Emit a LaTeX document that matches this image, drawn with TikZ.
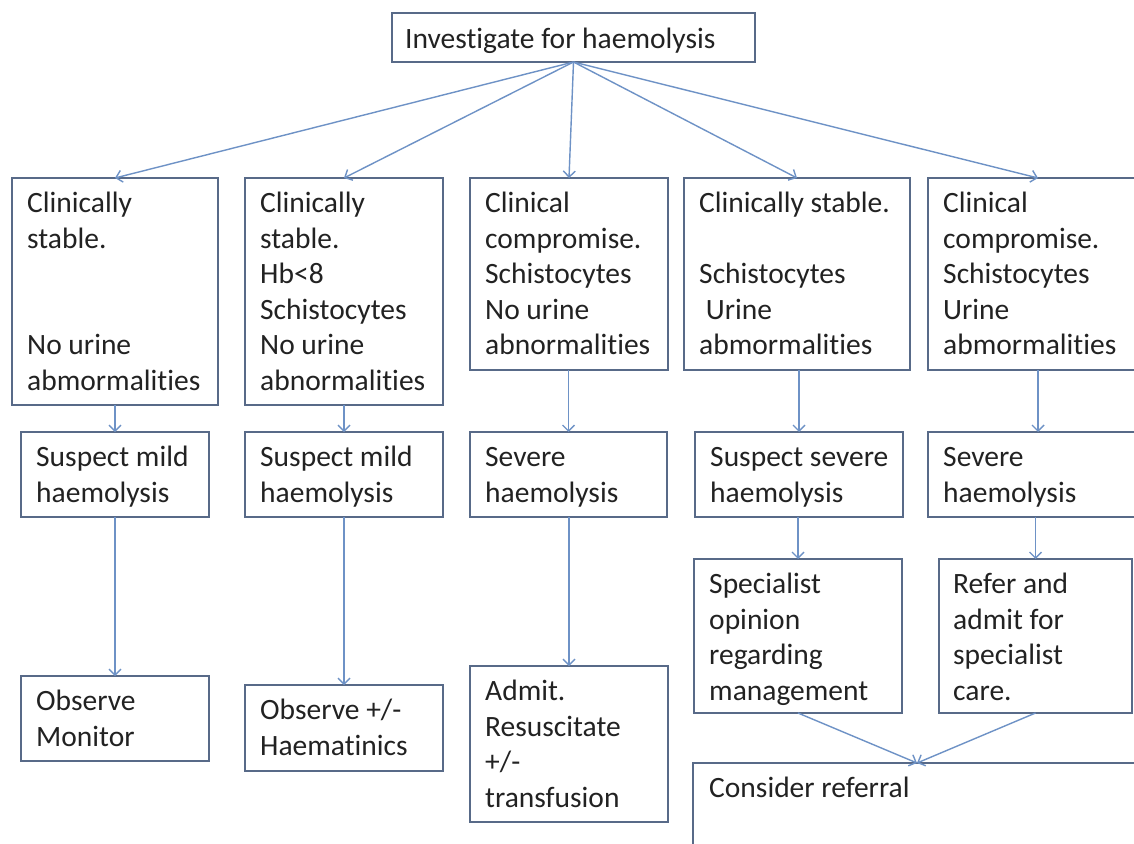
\documentclass[tikz,border=0pt]{standalone}
\usepackage{fontspec}
\setmainfont[Ligatures={NoCommon,NoContextual},RawFeature={-liga;-clig;-calt}]{Carlito}
\usetikzlibrary{arrows.meta,calc}
\definecolor{bordercol}{RGB}{88,106,136}
\definecolor{arrowcol}{RGB}{110,146,198}
\definecolor{textcol}{RGB}{34,34,34}
\newcommand{\ti}{t\kern0pt i}
\begin{document}
\begin{tikzpicture}[x=1pt,y=-1pt,
  box/.style={draw=bordercol, line width=1.8pt, inner sep=0pt, outer sep=0pt, anchor=north west},
  txt/.style={anchor=north west, inner sep=0pt, align=left, text=textcol,
              font=\fontsize{29.5}{35.5}\selectfont},
  arr/.style={draw=arrowcol, line width=1.4pt, -{Straight Barb[length=6pt,width=12pt]}}]
\useasboundingbox (0,0) rectangle (1134,843);
\clip (0,0) rectangle (1134,843);
\fill[white] (0,0) rectangle (1134,843);
% boxes
\node[box, minimum width=363pt, minimum height=49pt] (top) at (392,13) {};
\node[box, minimum width=206pt, minimum height=227pt] (b1) at (12,178) {};
\node[box, minimum width=198pt, minimum height=227pt] (b2) at (245,178) {};
\node[box, minimum width=198pt, minimum height=192pt] (b3) at (470,178) {};
\node[box, minimum width=226pt, minimum height=192pt] (b4) at (684,178) {};
\node[box, minimum width=220pt, minimum height=192pt] (b5) at (928,178) {};
\node[box, minimum width=188pt, minimum height=85pt] (m1) at (21,432) {};
\node[box, minimum width=198pt, minimum height=85pt] (m2) at (245,432) {};
\node[box, minimum width=197pt, minimum height=85pt] (m3) at (470,432) {};
\node[box, minimum width=208pt, minimum height=85pt] (m4) at (695,432) {};
\node[box, minimum width=220pt, minimum height=85pt] (m5) at (928,432) {};
\node[box, minimum width=188pt, minimum height=85pt] (e1) at (21,676) {};
\node[box, minimum width=198pt, minimum height=86pt] (e2) at (245,685) {};
\node[box, minimum width=198pt, minimum height=156pt] (e3) at (470,666) {};
\node[box, minimum width=208pt, minimum height=154pt] (e4) at (694,559) {};
\node[box, minimum width=193pt, minimum height=154pt] (e5) at (939,559) {};
\node[box, minimum width=460pt, minimum height=120pt] (cons) at (693,763) {};
% texts
\node[txt] (ttop) at ($(top.north west)+(13,10.2)$) {\strut Investigate for haemolysis};
\node[txt] (tb1) at ($(b1.north west)+(15,9.7)$) {\strut Clinically\\stable.\\~\\~\\No urine\\abmormali\ti es};
\node[txt] (tb2) at ($(b2.north west)+(15,9.7)$) {\strut Clinically\\stable.\\Hb<8\\Schistocytes\\No urine\\abnormali\ti es};
\node[txt] (tb3) at ($(b3.north west)+(15,9.7)$) {\strut Clinical\\compromise.\\Schistocytes\\No urine\\abnormali\ti es};
\node[txt] (tb4) at ($(b4.north west)+(15,9.7)$) {\strut Clinically stable.\\~\\Schistocytes\\\hspace*{0.23em}Urine\\abmormali\ti es};
\node[txt] (tb5) at ($(b5.north west)+(15,9.7)$) {\strut Clinical\\compromise.\\Schistocytes\\Urine\\abmormali\ti es};
\node[txt] (tm1) at ($(m1.north west)+(15,9.7)$) {\strut Suspect mild\\haemolysis};
\node[txt] (tm2) at ($(m2.north west)+(15,9.7)$) {\strut Suspect mild\\haemolysis};
\node[txt] (tm3) at ($(m3.north west)+(15,9.7)$) {\strut Severe\\haemolysis};
\node[txt] (tm4) at ($(m4.north west)+(15,9.7)$) {\strut Suspect severe\\haemolysis};
\node[txt] (tm5) at ($(m5.north west)+(15,9.7)$) {\strut Severe\\haemolysis};
\node[txt] (te1) at ($(e1.north west)+(15,9.7)$) {\strut Observe\\Monitor};
\node[txt] (te2) at ($(e2.north west)+(15,9.7)$) {\strut Observe +/-\\Haema\ti nics};
\node[txt] (te3) at ($(e3.north west)+(15,9.7)$) {\strut Admit.\\Resuscitate\\+/-\\transfusion};
\node[txt] (te4) at ($(e4.north west)+(15,9.7)$) {\strut Specialist\\opinion\\regarding\\management};
\node[txt] (te5) at ($(e5.north west)+(14,9.7)$) {\strut Refer and\\admit for\\specialist\\care.};
\node[txt] (tcons) at ($(cons.north west)+(16,9.7)$) {\strut Consider referral};
% connectors
\foreach \b in {b1,b2,b3,b4,b5} \draw[arr] (top.south) -- (\b.north);
\foreach \b/\m in {b1/m1,b2/m2,b3/m3,b4/m4,b5/m5} \draw[arr] (\m.north |- \b.south) -- (\m.north);
\foreach \m/\e in {m1/e1,m2/e2,m3/e3,m4/e4,m5/e5} \draw[arr] (\e.north |- \m.south) -- (\e.north);
\coordinate (cj) at ($(cons.north west)+(224,0)$);
\draw[arr] (e4.south) -- (cj);
\draw[arr] (e5.south) -- (cj);
\end{tikzpicture}
\end{document}
